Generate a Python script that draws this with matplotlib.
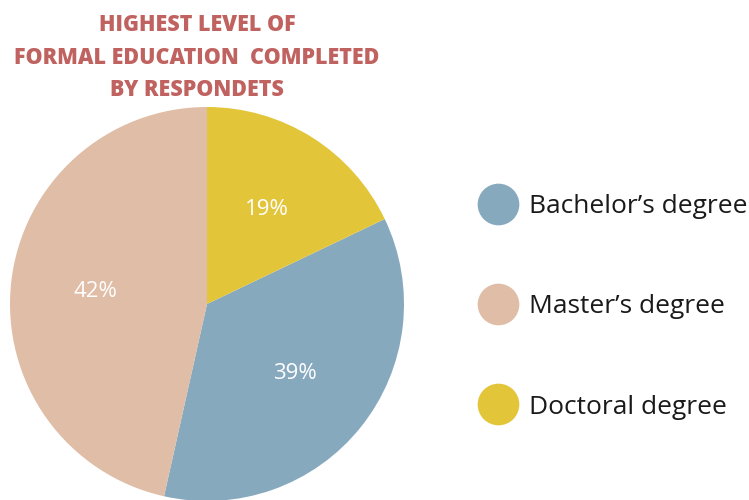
import matplotlib
matplotlib.use("Agg")
import matplotlib.pyplot as plt
from matplotlib.lines import Line2D

categories = ["Bachelor\u2019s degree", "Master\u2019s degree", "Doctoral degree"]
shares = [35.6, 46.5, 17.9]          # wedge sizes as drawn
pct_labels = ["39%", "42%", "19%"]   # printed labels
colors = ["#87A9BE", "#E0BDA6", "#E3C53A"]
title_lines = ["HIGHEST LEVEL OF", "FORMAL EDUCATION  COMPLETED", "BY RESPONDETS"]

fig = plt.figure(figsize=(7.49, 5.0), dpi=100)
fig.patch.set_facecolor("white")

ax = fig.add_axes([10 / 749, -1 / 500, 394 / 749, 394 / 500])
start = 90 - 360 * shares[2] / sum(shares)
wedges, texts = ax.pie(shares, colors=colors, startangle=start, counterclock=False,
                       labels=pct_labels, labeldistance=0.57,
                       wedgeprops=dict(linewidth=0),
                       textprops=dict(color="white", fontsize=16, family="Open Sans",
                                      ha="center", va="center"))
ax.set_xlim(-1, 1)
ax.set_ylim(-1, 1)
ax.set_aspect("equal")

for i, line in enumerate(title_lines):
    fig.text(197 / 749, 1 - (25 + 32.5 * i) / 500, line, ha="center", va="center",
             fontsize=15.5, fontweight="heavy", family="Open Sans", color="#C0625F")

handles = [Line2D([0], [0], marker="o", linestyle="none", markersize=30,
                  markerfacecolor=c, markeredgewidth=0) for c in colors]
fig.legend(handles, categories, loc="center left",
           bbox_to_anchor=(466 / 749, 1 - 307 / 500), frameon=False,
           prop=dict(family="Open Sans", size=19), labelcolor="#1a1a1a",
           labelspacing=2.85, handletextpad=0.5, handlelength=1.4, borderpad=0)

fig.savefig("out.png", dpi=100)
